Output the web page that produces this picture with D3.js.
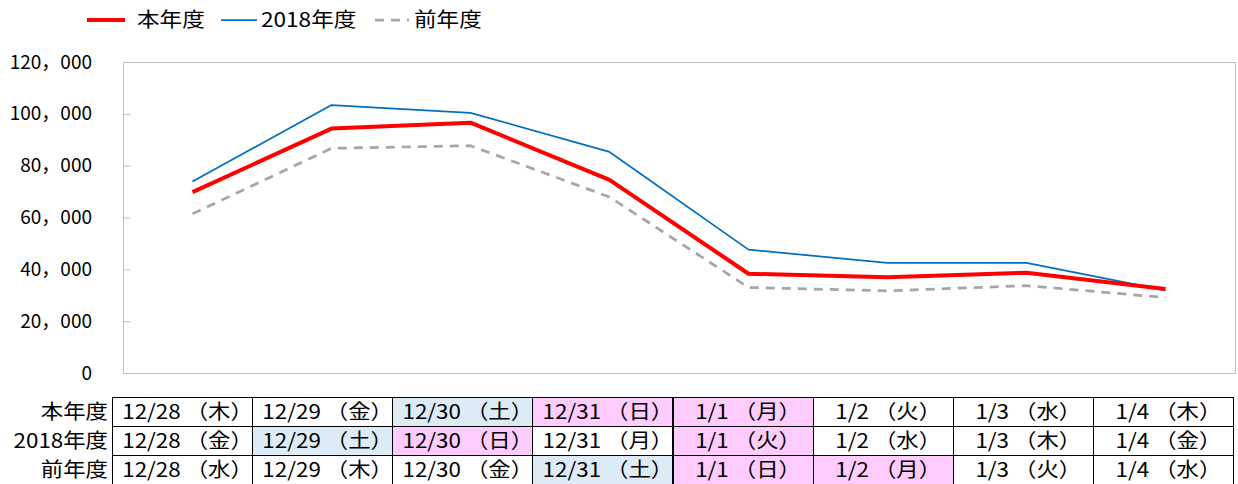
<!DOCTYPE html>
<html>
<head>
<meta charset="utf-8">
<script src="https://cdn.jsdelivr.net/npm/d3@7"></script>
<style>
	body { margin: 0; background: #fff; }
	text { font-family: "Noto Sans CJK JP", "Noto Sans", sans-serif; fill: #000; }
</style>
</head>
<body>
<div id="chart"></div>
<script>
// categories (x positions of the lines)
const days = ['12/28', '12/29', '12/30', '12/31', '1/1', '1/2', '1/3', '1/4'];

// series values
const thisYear = [69800, 94300, 96600, 74500, 38300, 36900, 38700, 32400];
const year2018 = [73900, 103400, 100400, 85300, 47600, 42500, 42500, 31900];
const lastYear = [61400, 86700, 87700, 67900, 33000, 31700, 33700, 29100];

const yTicks = [0, 20000, 40000, 60000, 80000, 100000, 120000];

// table under the chart
const rowNames = ['本年度', '2018年度', '前年度'];
const weekThis = ['木', '金', '土', '日', '月', '火', '水', '木'];
const week2018 = ['金', '土', '日', '月', '火', '水', '木', '金'];
const weekLast = ['水', '木', '金', '土', '日', '月', '火', '水'];
// b = saturday (blue), p = sunday / holiday (pink)
const markThis = ['', '', 'b', 'p', 'p', '', '', ''];
const mark2018 = ['', 'b', 'p', '', 'p', '', '', ''];
const markLast = ['', '', '', 'b', 'p', 'p', '', ''];

const W = 1238, H = 484;

// the original font is wider than Noto, stretch texts a bit
function stretch(sel, k) {
	sel.each(function() {
		let t = d3.select(this);
		let tx = +t.attr('x') || 0;
		let ty = +t.attr('y') || 0;
		t.attr('x', 0).attr('y', 0)
			.attr('transform', `translate(${tx},${ty}) scale(${k},1)`);
	});
}

let svg = d3.select('#chart').append('svg')
	.attr('width', W)
	.attr('height', H);

let x = d3.scaleBand()
	.domain(days)
	.range([123, 1235]);

let y = d3.scaleLinear()
	.domain([0, 120000])
	.range([373, 62]);

// plot frame
svg.append('rect')
	.attr('x', 123.5)
	.attr('y', y(120000) + 0.5)
	.attr('width', 1235 - 123)
	.attr('height', y(0) - y(120000))
	.attr('fill', 'none')
	.attr('stroke', '#BFBFBF')
	.attr('stroke-width', 1);

// y axis
let fmt = v => d3.format(',')(v).replace(/,/g, '，');

let yAxis = d3.axisLeft(y)
	.tickValues(yTicks)
	.tickSize(-7)
	.tickPadding(31.5)
	.tickFormat(fmt);

let ga = svg.append('g')
	.attr('transform', 'translate(123.5,0)')
	.call(yAxis);

ga.select('.domain').remove();
ga.selectAll('line').attr('stroke', '#BFBFBF');
ga.selectAll('text')
	.style('font-size', '19px')
	.attr('fill', '#000');

// lines
let series = [
	{ name: '2018年度', values: year2018, color: '#0070C0', width: 1.75, dash: null },
	{ name: '前年度', values: lastYear, color: '#A6A6A6', width: 2.75, dash: '9,7' },
	{ name: '本年度', values: thisYear, color: '#FF0000', width: 4, dash: null }
];

let line = d3.line()
	.x((d, i) => x(days[i]) + x.bandwidth() / 2)
	.y(d => y(d));

svg.selectAll('path.series')
	.data(series)
	.enter()
	.append('path')
	.attr('class', 'series')
	.attr('d', d => line(d.values))
	.attr('fill', 'none')
	.attr('stroke', d => d.color)
	.attr('stroke-width', d => d.width)
	.attr('stroke-dasharray', d => d.dash)
	.attr('stroke-linejoin', 'round');

// legend
let legend = [
	{ name: '本年度', color: '#FF0000', width: 4, dash: null, x1: 87, x2: 125, tx: 137 },
	{ name: '2018年度', color: '#0070C0', width: 1.75, dash: null, x1: 221, x2: 257, tx: 261 },
	{ name: '前年度', color: '#A6A6A6', width: 2.75, dash: '9,7', x1: 375, x2: 409, tx: 414 }
];

let lg = svg.append('g').selectAll('g')
	.data(legend)
	.enter()
	.append('g');

lg.append('line')
	.attr('x1', d => d.x1)
	.attr('x2', d => d.x2)
	.attr('y1', 20)
	.attr('y2', 20)
	.attr('stroke', d => d.color)
	.attr('stroke-width', d => d.width)
	.attr('stroke-dasharray', d => d.dash);

lg.append('text')
	.attr('x', d => d.tx)
	.attr('y', 27)
	.style('font-size', '20px')
	.text(d => d.name);

stretch(lg.selectAll('text'), 1.13);

// table
let tx = d3.scaleBand()
	.domain(days)
	.range([112, 1233]);

let ty = d3.scaleBand()
	.domain(rowNames)
	.range([397, 484]);

let fills = { '': '#FFFFFF', 'b': '#DDEBF7', 'p': '#FFCCFF' };

let rows = [
	{ name: rowNames[0], week: weekThis, mark: markThis },
	{ name: rowNames[1], week: week2018, mark: mark2018 },
	{ name: rowNames[2], week: weekLast, mark: markLast }
];

let tg = svg.append('g');

rows.forEach(r => {
	let cells = tg.append('g').selectAll('g')
		.data(days)
		.enter()
		.append('g');

	cells.append('rect')
		.attr('x', d => Math.round(tx(d)) + 0.5)
		.attr('y', Math.round(ty(r.name)) + 0.5)
		.attr('width', Math.round(tx.bandwidth()))
		.attr('height', Math.round(ty.bandwidth()))
		.attr('fill', (d, i) => fills[r.mark[i]])
		.attr('stroke', '#000')
		.attr('stroke-width', 1);

	// closing full-width paren has blank on its right, nudge to centre the ink
	cells.append('text')
		.attr('x', d => tx(d) + tx.bandwidth() / 2 + 5.5)
		.attr('y', ty(r.name) + ty.bandwidth() / 2 + 7)
		.attr('text-anchor', 'middle')
		.style('font-size', '20px')
		.text((d, i) => d + ' （' + r.week[i] + '）');

	tg.append('text')
		.attr('x', 108)
		.attr('y', ty(r.name) + ty.bandwidth() / 2 + 7)
		.attr('text-anchor', 'end')
		.style('font-size', '20px')
		.text(r.name);
});

stretch(tg.selectAll('text'), 1.12);
</script>
</body>
</html>
